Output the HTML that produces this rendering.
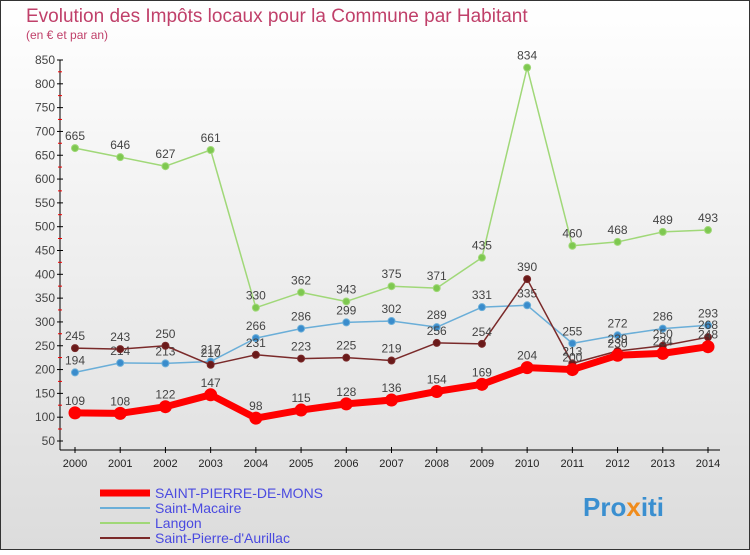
<!DOCTYPE html>
<html><head><meta charset="utf-8"><style>
body{margin:0;width:750px;height:550px;overflow:hidden;font-family:"Liberation Sans",sans-serif}
</style></head><body>
<svg id="c" width="750" height="550" xmlns="http://www.w3.org/2000/svg">
<defs><linearGradient id="bg" x1="0" y1="0" x2="0" y2="1"><stop offset="0" stop-color="#ffffff"/><stop offset="1" stop-color="#dcdcdc"/></linearGradient></defs>
<rect x="0.5" y="0.5" width="749" height="549" fill="url(#bg)" stroke="#333"/>
<text x="26" y="22" font-size="19" fill="#c0406a">Evolution des Impôts locaux pour la Commune par Habitant</text>
<text x="26" y="39" font-size="12" fill="#c0406a">(en € et par an)</text>
<g id="axes"></g><g id="series"></g><g id="legend"></g>
<text x="583" y="516" font-size="26" font-weight="bold" fill="#3a8fd0">Pro<tspan fill="#f08c1c">x</tspan>iti</text>
</svg>
<script>
const years=[2000,2001,2002,2003,2004,2005,2006,2007,2008,2009,2010,2011,2012,2013,2014];
const yTicks=[50,100,150,200,250,300,350,400,450,500,550,600,650,700,750,800,850];
const spm=[109,108,122,147,98,115,128,136,154,169,204,200,230,234,248];
const macaire=[194,214,213,217,266,286,299,302,289,331,335,255,272,286,293];
const langon=[665,646,627,661,330,362,343,375,371,435,834,460,468,489,493];
const aurillac=[245,243,250,210,231,223,225,219,256,254,390,213,239,250,268];
const NS='http://www.w3.org/2000/svg';
function X(i){return 75+i*(708-75)/(years.length-1);}
function Y(v){return 441-(v-50)*(441-60)/800;}
function mk(t,a,p){const e=document.createElementNS(NS,t);for(const k in a)e.setAttribute(k,a[k]);p.appendChild(e);return e;}
const ax=document.getElementById('axes');
const yl=mk('line',{x1:60,y1:60,x2:60,y2:450,stroke:'#000'},ax);


const xl=mk('line',{x1:60,y1:450,x2:720,y2:450,stroke:'#000'},ax);


yTicks.forEach(v=>{const y=Y(v);
 mk('line',{x1:57,y1:y,x2:63,y2:y,stroke:'#000'},ax);
 if(v<850)mk('line',{x1:58,y1:y-12,x2:62,y2:y-12,stroke:'#e00'},ax);
 const t=mk('text',{x:55,y:y+4,'font-size':12,fill:'#444','text-anchor':'end'},ax);t.textContent=v;
 
 });
years.forEach((yr,i)=>{const x=X(i);
 mk('line',{x1:x,y1:447,x2:x,y2:453,stroke:'#000'},ax);
 const t=mk('text',{x:x,y:467,'font-size':11,fill:'#222','text-anchor':'middle'},ax);t.textContent=yr;
 
 });
const sg=document.getElementById('series');
function series(vals,color,w,r,name,fill){
 const g=mk('g',{},sg);
 
 
 mk('polyline',{points:vals.map((v,i)=>X(i)+','+Y(v)).join(' '),fill:'none',stroke:color,'stroke-width':w,'stroke-linejoin':'round'},g);
 vals.forEach((v,i)=>{const c=mk('circle',{cx:X(i),cy:Y(v),r:r,fill:fill,stroke:color,'stroke-width':1},g);
  
  
  const t=mk('text',{x:X(i),y:Y(v)-8,'font-size':12,fill:'#444','text-anchor':'middle'},g);t.textContent=v;
  
  });
}
series(langon,'#a0d878',1.5,3.5,'langon-series','#7ec850');
series(macaire,'#6aaed8',1.5,3.5,'saint-macaire-series','#3a8ccc');
series(aurillac,'#7a2a2a',1.5,3.5,'aurillac-series','#6a1a1a');
series(spm,'#ff0000',7,6,'spm-series','#ff0000');
const lg=document.getElementById('legend');
const items=[['SAINT-PIERRE-DE-MONS','#ff0000',7],['Saint-Macaire','#6aaed8',2],['Langon','#a0d878',2],['Saint-Pierre-d\'Aurillac','#7a2a2a',2]];
items.forEach((it,i)=>{const y=493+i*15;
 const g=mk('g',{},lg);
 
 
 mk('line',{x1:100,y1:y,x2:150,y2:y,stroke:it[1],'stroke-width':it[2]},g);
 const t=mk('text',{x:155,y:y+5,'font-size':14,fill:'#4a4ae0'},g);t.textContent=it[0];});
</script>
</body></html>
